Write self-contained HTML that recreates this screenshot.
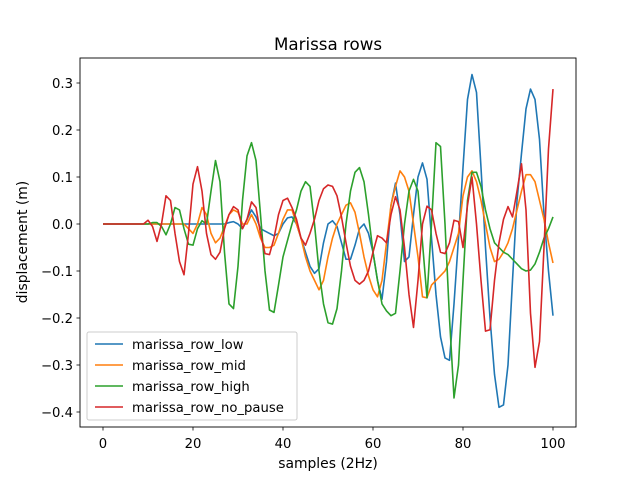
<!DOCTYPE html>
<html><head><meta charset="utf-8"><style>body{margin:0;background:#fff}svg{font-family:"DejaVu Sans","Liberation Sans",sans-serif}</style></head>
<body>
<svg id="chart" width="640" height="480" viewBox="0 0 640 480" xmlns="http://www.w3.org/2000/svg">
<rect width="640" height="480" fill="#fff"/>
<text x="328" y="50" font-size="16.7" text-anchor="middle">Marissa rows</text>
<g id="plot"></g>
<rect x="80" y="58" width="496" height="369" fill="none" stroke="#000" stroke-width="0.9"/>
<g id="axes"></g>
<text x="328" y="468" font-size="13.9" text-anchor="middle">samples (2Hz)</text>
<text transform="translate(27,242) rotate(-90)" font-size="13.9" text-anchor="middle">displacement (m)</text>
<g id="legend"></g>
</svg>
<script>
const seriesNames = ["marissa_row_low","marissa_row_mid","marissa_row_high","marissa_row_no_pause"];
const seriesColors = ["#1f77b4","#ff7f0e","#2ca02c","#d62728"];
const xTicks = [0,20,40,60,80,100];
const yTicks = [-0.4,-0.3,-0.2,-0.1,0.0,0.1,0.2,0.3];
const lowVals = [0,0,0,0,0,0,0,0,0,0,0,0,0,0,0,0,0,0,0,0,0,0,0,0,0,0,0,0,0.003,0.005,0,-0.01,0.01,0.03,0.015,-0.01,-0.015,-0.02,-0.025,-0.02,0,0.013,0.015,0,-0.03,-0.06,-0.09,-0.105,-0.095,-0.04,0,0.007,-0.005,-0.04,-0.075,-0.075,-0.045,-0.01,0,-0.02,-0.06,-0.12,-0.16,-0.08,0.04,0.087,0.02,-0.08,-0.07,0.02,0.1,0.13,0.095,-0.03,-0.15,-0.24,-0.285,-0.29,-0.17,-0.03,0.12,0.265,0.318,0.28,0.12,-0.05,-0.2,-0.32,-0.39,-0.385,-0.3,-0.12,0.05,0.15,0.245,0.287,0.265,0.18,0.02,-0.1,-0.195];
const midVals = [0,0,0,0,0,0,0,0,0,0,0,0,0,0,0,0,0,0,0,-0.01,-0.02,0,0.035,0.02,-0.02,-0.04,-0.03,-0.005,0.02,0.03,0.025,0,0,0.02,0,-0.03,-0.05,-0.05,-0.045,-0.02,0.01,0.03,0.03,0,-0.03,-0.07,-0.1,-0.12,-0.14,-0.12,-0.07,-0.03,0,0.02,0.04,0.045,0.025,-0.02,-0.07,-0.11,-0.14,-0.155,-0.12,-0.04,0.04,0.08,0.113,0.1,0.07,0,-0.07,-0.155,-0.157,-0.13,-0.12,-0.11,-0.1,-0.08,-0.05,-0.02,0.06,0.1,0.113,0.09,0.05,0,-0.05,-0.08,-0.075,-0.06,-0.04,-0.01,0.03,0.07,0.105,0.105,0.09,0.05,0.01,-0.04,-0.083];
const highVals = [0,0,0,0,0,0,0,0,0,0,0,0.003,0.003,-0.005,-0.023,0,0.035,0.03,-0.01,-0.043,-0.045,-0.01,0.007,0,0.07,0.135,0.09,-0.06,-0.17,-0.18,-0.09,0.05,0.145,0.173,0.135,0.02,-0.1,-0.183,-0.188,-0.13,-0.07,-0.035,0,0.03,0.07,0.09,0.08,0,-0.1,-0.17,-0.21,-0.213,-0.18,-0.1,0,0.07,0.11,0.12,0.09,0.02,-0.06,-0.12,-0.17,-0.185,-0.195,-0.19,-0.1,0,0.07,0.095,0.07,-0.04,-0.157,0,0.173,0.165,0,-0.2,-0.37,-0.3,-0.12,0.05,0.11,0.11,0.08,0.03,-0.01,-0.04,-0.05,-0.06,-0.065,-0.075,-0.085,-0.095,-0.1,-0.098,-0.085,-0.06,-0.03,-0.01,0.015];
const noPauseVals = [0,0,0,0,0,0,0,0,0,0,0.008,-0.005,-0.037,0,0.06,0.05,-0.02,-0.08,-0.108,-0.02,0.085,0.122,0.07,-0.02,-0.065,-0.075,-0.06,-0.01,0.02,0.037,0.03,-0.01,0.01,0.047,0.035,-0.02,-0.063,-0.065,-0.03,0.02,0.05,0.055,0.035,0.01,-0.03,-0.045,-0.02,0.01,0.05,0.075,0.083,0.08,0.06,0.015,-0.04,-0.09,-0.12,-0.128,-0.12,-0.1,-0.06,-0.025,-0.03,-0.04,0.02,0.058,0.03,-0.05,-0.15,-0.22,-0.12,0,0.038,0.03,-0.02,-0.06,-0.063,-0.04,0.008,0.005,-0.05,0.04,0.1,0,-0.12,-0.228,-0.225,-0.12,-0.04,0.01,0.037,0.015,0.07,0.128,0.03,-0.19,-0.305,-0.25,-0.05,0.16,0.287];
const allSeries = [lowVals, midVals, highVals, noPauseVals];
const NS = "http://www.w3.org/2000/svg";
function xs(v){ return 103 + v*4.5; }
function ys(v){ return 224 - v*470; }
const plot = document.getElementById('plot');
allSeries.forEach((vals, s) => {
  const p = document.createElementNS(NS,'polyline');
  p.setAttribute('points', vals.map((v,i)=>xs(i).toFixed(2)+','+ys(v).toFixed(2)).join(' '));
  p.setAttribute('fill','none');
  p.setAttribute('stroke', seriesColors[s]);
  p.setAttribute('stroke-width','1.6');
  p.setAttribute('stroke-linejoin','round');
  
  
  plot.appendChild(p);
});
const axes = document.getElementById('axes');
xTicks.forEach(t => {
  const l = document.createElementNS(NS,'line');
  l.setAttribute('x1',xs(t)); l.setAttribute('x2',xs(t)); l.setAttribute('y1',427); l.setAttribute('y2',430.5);
  l.setAttribute('stroke','#000'); l.setAttribute('stroke-width','0.8');
  
  
  axes.appendChild(l);
  const tx = document.createElementNS(NS,'text');
  tx.setAttribute('x',xs(t)); tx.setAttribute('y',448); tx.setAttribute('font-size','13.2'); tx.setAttribute('text-anchor','middle');
  tx.textContent = t;
  
  
  axes.appendChild(tx);
});
yTicks.forEach(t => {
  const l = document.createElementNS(NS,'line');
  l.setAttribute('x1',76.5); l.setAttribute('x2',80); l.setAttribute('y1',ys(t)); l.setAttribute('y2',ys(t));
  l.setAttribute('stroke','#000'); l.setAttribute('stroke-width','0.8');
  
  
  axes.appendChild(l);
  const tx = document.createElementNS(NS,'text');
  tx.setAttribute('x',73); tx.setAttribute('y',ys(t)+4.8); tx.setAttribute('font-size','13.2'); tx.setAttribute('text-anchor','end');
  tx.textContent = (t<0?'\u2212':'') + Math.abs(t).toFixed(1);
  
  
  axes.appendChild(tx);
});
const lg = document.getElementById('legend');
const box = document.createElementNS(NS,'rect');
box.setAttribute('x',87); box.setAttribute('y',332); box.setAttribute('width',210); box.setAttribute('height',88);
box.setAttribute('rx',2); box.setAttribute('fill','#fff'); box.setAttribute('fill-opacity','0.8'); box.setAttribute('stroke','#ccc');


lg.appendChild(box);
seriesNames.forEach((n,s) => {
  const y = 344 + s*21;
  const l = document.createElementNS(NS,'line');
  l.setAttribute('x1',95); l.setAttribute('x2',123); l.setAttribute('y1',y); l.setAttribute('y2',y);
  l.setAttribute('stroke',seriesColors[s]); l.setAttribute('stroke-width','1.6');
  
  
  lg.appendChild(l);
  const tx = document.createElementNS(NS,'text');
  tx.setAttribute('x',132); tx.setAttribute('y',y+5); tx.setAttribute('font-size','13.2');
  tx.textContent = n;
  
  
  lg.appendChild(tx);
});
</script>
</body></html>
